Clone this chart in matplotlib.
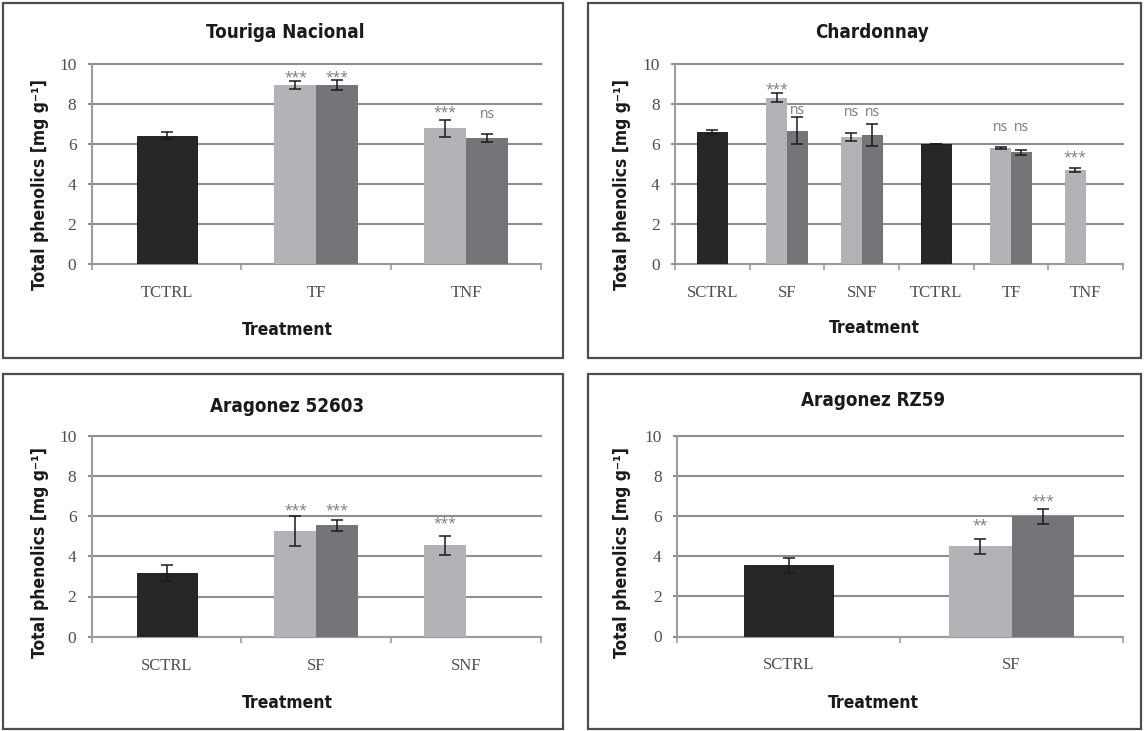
import numpy as np
import matplotlib
matplotlib.use("Agg")
import matplotlib.pyplot as plt
from matplotlib.patches import Rectangle

nan = np.nan

# ---------------- data ----------------
titles = ["Touriga Nacional", "Chardonnay", "Aragonez 52603", "Aragonez RZ59"]

tn_categories = ["TCTRL", "TF", "TNF"]
tn_ctrl = [6.43, nan, nan]
tn_ctrl_err = [0.17, nan, nan]
tn_light = [nan, 8.95, 6.80]
tn_light_err = [nan, 0.20, 0.44]
tn_dark = [nan, 8.95, 6.32]
tn_dark_err = [nan, 0.25, 0.21]
tn_light_sig = ["", "***", "***"]
tn_dark_sig = ["", "***", "ns"]
tn_light_sig_y = [nan, 9.55, 7.80]
tn_dark_sig_y = [nan, 9.55, 7.50]

ch_categories = ["SCTRL", "SF", "SNF", "TCTRL", "TF", "TNF"]
ch_ctrl = [6.62, nan, nan, 6.00, nan, nan]
ch_ctrl_err = [0.10, nan, nan, 0.0, nan, nan]
ch_light = [nan, 8.33, 6.35, nan, 5.82, 4.70]
ch_light_err = [nan, 0.22, 0.20, nan, 0.03, 0.10]
ch_dark = [nan, 6.68, 6.45, nan, 5.60, nan]
ch_dark_err = [nan, 0.67, 0.55, nan, 0.13, nan]
ch_light_sig = ["", "***", "ns", "", "ns", "***"]
ch_dark_sig = ["", "ns", "ns", "", "ns", ""]
ch_light_sig_y = [nan, 8.97, 7.58, nan, 6.83, 5.55]
ch_dark_sig_y = [nan, 7.72, 7.58, nan, 6.83, nan]

a5_categories = ["SCTRL", "SF", "SNF"]
a5_ctrl = [3.15, nan, nan]
a5_ctrl_err = [0.40, nan, nan]
a5_light = [nan, 5.25, 4.55]
a5_light_err = [nan, 0.75, 0.48]
a5_dark = [nan, 5.55, nan]
a5_dark_err = [nan, 0.28, nan]
a5_light_sig = ["", "***", "***"]
a5_dark_sig = ["", "***", ""]
a5_light_sig_y = [nan, 6.50, 5.83]
a5_dark_sig_y = [nan, 6.50, nan]

rz_categories = ["SCTRL", "SF"]
rz_ctrl = [3.55, nan]
rz_ctrl_err = [0.38, nan]
rz_light = [nan, 4.50]
rz_light_err = [nan, 0.37]
rz_dark = [nan, 6.00]
rz_dark_err = [nan, 0.37]
rz_light_sig = ["", "**"]
rz_dark_sig = ["", "***"]
rz_light_sig_y = [nan, 5.75]
rz_dark_sig_y = [nan, 6.97]

y_ticks = [0, 2, 4, 6, 8, 10]
y_label = "Total phenolics [mg g\u207b\u00b9]"
x_label = "Treatment"

# ---------------- style ----------------
W, H = 1144, 731
C_CTRL = "#272727"
C_LIGHT = "#b1b3b6"
C_DARK = "#747578"
GRID = "#8e8e8e"
SPINE = "#9c9c9c"
TICKC = "#4f4f4f"
SIGC = "#7a7a7a"
TITLE_FONT = dict(family="DejaVu Sans", weight="bold", stretch="condensed")
TICK_FONT = "Liberation Serif"

fig = plt.figure(figsize=(W / 100, H / 100), dpi=100)
fig.patch.set_facecolor("white")


def fx(px):
    return px / W


def fy(py):
    return 1 - py / H


panels = [
    dict(cats=tn_categories, ctrl=tn_ctrl, ctrl_err=tn_ctrl_err, light=tn_light, light_err=tn_light_err,
         dark=tn_dark, dark_err=tn_dark_err, lsig=tn_light_sig, dsig=tn_dark_sig,
         lsy=tn_light_sig_y, dsy=tn_dark_sig_y,
         box=(3, 3, 563, 358), ax=(91.7, 64.3, 541, 264.3), title=(285, 33),
         ylab=(40, 185), xlab=(287, 330)),
    dict(cats=ch_categories, ctrl=ch_ctrl, ctrl_err=ch_ctrl_err, light=ch_light, light_err=ch_light_err,
         dark=ch_dark, dark_err=ch_dark_err, lsig=ch_light_sig, dsig=ch_dark_sig,
         lsy=ch_light_sig_y, dsy=ch_dark_sig_y,
         box=(588, 3, 1141, 358), ax=(675, 64.3, 1123, 264.3), title=(872, 33),
         ylab=(622, 185), xlab=(874, 328)),
    dict(cats=a5_categories, ctrl=a5_ctrl, ctrl_err=a5_ctrl_err, light=a5_light, light_err=a5_light_err,
         dark=a5_dark, dark_err=a5_dark_err, lsig=a5_light_sig, dsig=a5_dark_sig,
         lsy=a5_light_sig_y, dsy=a5_dark_sig_y,
         box=(3, 374, 563, 729), ax=(91.7, 435.7, 541, 636.7), title=(287, 407),
         ylab=(40, 552), xlab=(287, 703)),
    dict(cats=rz_categories, ctrl=rz_ctrl, ctrl_err=rz_ctrl_err, light=rz_light, light_err=rz_light_err,
         dark=rz_dark, dark_err=rz_dark_err, lsig=rz_light_sig, dsig=rz_dark_sig,
         lsy=rz_light_sig_y, dsy=rz_dark_sig_y,
         box=(588, 374, 1141, 729), ax=(677, 436, 1123, 636.5), title=(873, 401),
         ylab=(622, 552), xlab=(873, 703)),
]

CTRL_W = 0.40
PAIR_W = 0.28


def sig_label(ax, x, y, s):
    if not s or np.isnan(y):
        return
    k = 0.60 if "*" in s else 0.27
    fs = 10
    ax.annotate(s, (x, y), xytext=(0, -k * fs), textcoords="offset points",
                ha="center", va="baseline", fontsize=fs, color=SIGC,
                family="Open Sans", annotation_clip=False)


for idx, p in enumerate(panels):
    bx0, by0, bx1, by1 = p["box"]
    fig.patches.append(Rectangle((fx(bx0), fy(by1)), fx(bx1 - bx0), (by1 - by0) / H,
                                 transform=fig.transFigure, fill=False,
                                 edgecolor="#4d4d4d", linewidth=1.6, zorder=0))
    ax0, ay0, ax1, ay1 = p["ax"]
    ax = fig.add_axes([fx(ax0), fy(ay1), fx(ax1 - ax0), (ay1 - ay0) / H])
    n = len(p["cats"])
    x = np.arange(n)
    ctrl = np.array(p["ctrl"], float)
    light = np.array(p["light"], float)
    dark = np.array(p["dark"], float)
    ekw = dict(ecolor="#1a1a1a", elinewidth=1.1, capsize=4.5, capthick=1.1)
    ax.bar(x, ctrl, width=CTRL_W, color=C_CTRL, edgecolor="#111111", linewidth=0.6,
           yerr=p["ctrl_err"], error_kw=ekw, zorder=3)
    ax.bar(x - PAIR_W / 2, light, width=PAIR_W, color=C_LIGHT, linewidth=0,
           yerr=p["light_err"], error_kw=ekw, zorder=3)
    ax.bar(x + PAIR_W / 2, dark, width=PAIR_W, color=C_DARK, linewidth=0,
           yerr=p["dark_err"], error_kw=ekw, zorder=3)
    for i in range(n):
        sig_label(ax, x[i] - PAIR_W / 2, p["lsy"][i], p["lsig"][i])
        sig_label(ax, x[i] + PAIR_W / 2, p["dsy"][i], p["dsig"][i])

    ax.set_xlim(-0.5, n - 0.5)
    ax.set_ylim(0, 10)
    ax.set_yticks(y_ticks)
    ax.set_yticklabels([str(t) for t in y_ticks], family=TICK_FONT, fontsize=12.5, color=TICKC)
    ax.set_xticks(x)
    ax.set_xticklabels(p["cats"], family=TICK_FONT, fontsize=12, color=TICKC)
    ax.set_xticks(np.arange(n + 1) - 0.5, minor=True)
    ax.tick_params(axis="x", which="major", length=0, pad=15)
    ax.tick_params(axis="x", which="minor", length=4, width=1.2, color=SPINE, direction="out")
    ax.tick_params(axis="y", length=3, width=1.5, color=GRID, pad=8)
    ax.grid(axis="y", color=GRID, linewidth=1.5, zorder=0)
    for gl in ax.get_ygridlines():
        gl.set_clip_on(False)
    ax.set_axisbelow(True)
    for s in ["top", "right"]:
        ax.spines[s].set_visible(False)
    for s in ["left", "bottom"]:
        ax.spines[s].set_color(SPINE)
        ax.spines[s].set_linewidth(1.5)

    fig.text(fx(p["title"][0]), fy(p["title"][1]), titles[idx], ha="center", va="center",
             fontsize=13.5, color="#1a1a1a", **TITLE_FONT)
    fig.text(fx(p["ylab"][0]), fy(p["ylab"][1]), y_label, ha="center", va="center", rotation=90,
             fontsize=12.5, color="#1a1a1a", **TITLE_FONT)
    fig.text(fx(p["xlab"][0]), fy(p["xlab"][1]), x_label, ha="center", va="center",
             fontsize=12.5, color="#1a1a1a", **TITLE_FONT)

fig.savefig("out.png", dpi=100, facecolor="white")
